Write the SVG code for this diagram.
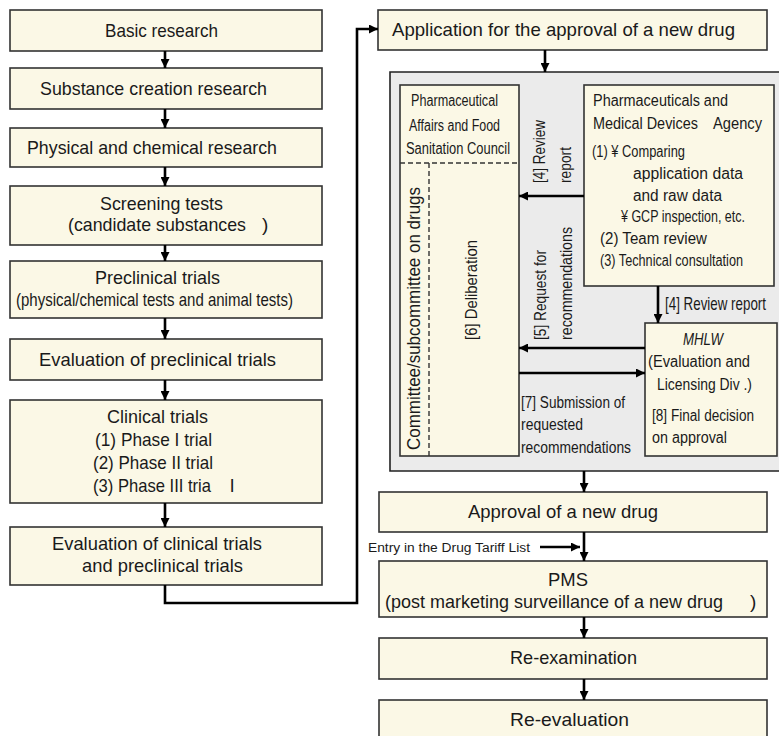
<svg xmlns="http://www.w3.org/2000/svg" width="779" height="736" viewBox="0 0 779 736">
<style>
.box{fill:#fbf8e6;stroke:#333;stroke-width:1.6}
.gray{fill:#ebebeb;stroke:none}
.gline{fill:none;stroke:#222;stroke-width:1.6}
.t{font-family:"Liberation Sans",Arial,sans-serif;font-size:19px;fill:#1a1a1a}
.m{font-size:16px}
.s{font-size:12px}
.c{fill:none;stroke:#000;stroke-width:2.6}
.d{fill:none;stroke:#333;stroke-width:1.4;stroke-dasharray:5 3}
</style>
<defs>
<marker id="ah" viewBox="0 0 10 10" markerWidth="9" markerHeight="9" markerUnits="userSpaceOnUse" refX="10" refY="5" orient="auto"><path d="M0,0L10,5L0,10z" fill="#000"/></marker>
</defs>
<rect width="779" height="736" fill="#fff"/>

<g id="n-basic"><rect class="box" x="10" y="10" width="312" height="41"/><text class="t" x="161.5" y="37" text-anchor="middle" textLength="113" lengthAdjust="spacingAndGlyphs">Basic research</text></g>
<g id="n-substance"><rect class="box" x="10" y="68" width="312" height="41"/><text class="t" x="153.5" y="95" text-anchor="middle" textLength="227" lengthAdjust="spacingAndGlyphs">Substance creation research</text></g>
<g id="n-physical"><rect class="box" x="10" y="128" width="312" height="39"/><text class="t" x="152" y="154" text-anchor="middle" textLength="250" lengthAdjust="spacingAndGlyphs">Physical and chemical research</text></g>
<g id="n-screening"><rect class="box" x="10" y="186" width="312" height="59"/><text class="t" x="161.5" y="210" text-anchor="middle" textLength="123" lengthAdjust="spacingAndGlyphs">Screening tests</text><text class="t" x="68" y="231"><tspan textLength="178" lengthAdjust="spacingAndGlyphs">(candidate substances</tspan><tspan x="262">)</tspan></text></g>
<g id="n-preclinical"><rect class="box" x="10" y="261" width="312" height="57"/><text class="t" x="157.5" y="284" text-anchor="middle" textLength="125" lengthAdjust="spacingAndGlyphs">Preclinical trials</text><text class="t" x="154.5" y="306" text-anchor="middle" textLength="277" lengthAdjust="spacingAndGlyphs">(physical/chemical tests and animal tests)</text></g>
<g id="n-evalpre"><rect class="box" x="10" y="339" width="312" height="41"/><text class="t" x="157.5" y="366" text-anchor="middle" textLength="237" lengthAdjust="spacingAndGlyphs">Evaluation of preclinical trials</text></g>
<g id="n-clinical"><rect class="box" x="10" y="400" width="312" height="103"/><text class="t" x="157.5" y="423" text-anchor="middle" textLength="101" lengthAdjust="spacingAndGlyphs">Clinical trials</text><text class="t" x="153.5" y="446" text-anchor="middle" textLength="117" lengthAdjust="spacingAndGlyphs">(1) Phase I trial</text><text class="t" x="153" y="469" text-anchor="middle" textLength="120" lengthAdjust="spacingAndGlyphs">(2) Phase II trial</text><text class="t" x="93" y="492"><tspan textLength="118" lengthAdjust="spacingAndGlyphs">(3) Phase III tria</tspan><tspan x="230">l</tspan></text></g>
<g id="n-evalclin"><rect class="box" x="10" y="527" width="312" height="58"/><text class="t" x="157" y="550" text-anchor="middle" textLength="210" lengthAdjust="spacingAndGlyphs">Evaluation of clinical trials</text><text class="t" x="162.5" y="572" text-anchor="middle" textLength="161" lengthAdjust="spacingAndGlyphs">and preclinical trials</text></g>

<g id="n-application"><rect class="box" x="378" y="10" width="389" height="40"/><text class="t" x="563.5" y="36" text-anchor="middle" textLength="343" lengthAdjust="spacingAndGlyphs">Application for the approval of a new drug</text></g>

<g id="n-review"><rect class="gray" x="390" y="72" width="389" height="399"/><path class="gline" d="M779,72H390V471H779"/></g>

<g id="n-pafsc"><rect class="box" x="400" y="85" width="119" height="371"/>
<path class="d" d="M400,163H519M429,163V456"/>
<text class="t m" x="454.5" y="106" text-anchor="middle" textLength="87" lengthAdjust="spacingAndGlyphs">Pharmaceutical</text>
<text class="t m" x="454.5" y="131" text-anchor="middle" textLength="91" lengthAdjust="spacingAndGlyphs">Affairs and Food</text>
<text class="t m" x="458" y="154" text-anchor="middle" textLength="104" lengthAdjust="spacingAndGlyphs">Sanitation Council</text>
<text class="t" transform="translate(420,450) rotate(-90)" font-size="18" textLength="263" lengthAdjust="spacingAndGlyphs">Committee/subcommittee on drugs</text>
<text class="t m" transform="translate(477,340) rotate(-90)" textLength="100" lengthAdjust="spacingAndGlyphs">[6] Deliberation</text>
</g>

<g id="n-pmda"><rect class="box" x="584" y="85" width="190" height="201"/>
<text class="t m" x="593" y="106" textLength="135" lengthAdjust="spacingAndGlyphs">Pharmaceuticals and</text>
<text class="t m" x="593" y="129"><tspan textLength="105" lengthAdjust="spacingAndGlyphs">Medical Devices</tspan><tspan x="713" textLength="49" lengthAdjust="spacingAndGlyphs">Agency</tspan></text>
<text class="t m" x="592" y="157" textLength="93" lengthAdjust="spacingAndGlyphs">(1) ¥ Comparing</text>
<text class="t m" x="633" y="179" textLength="110" lengthAdjust="spacingAndGlyphs">application data</text>
<text class="t m" x="633" y="201" textLength="89" lengthAdjust="spacingAndGlyphs">and raw data</text>
<text class="t m" x="621" y="222" textLength="124" lengthAdjust="spacingAndGlyphs">¥ GCP inspection, etc.</text>
<text class="t m" x="600" y="244" textLength="107" lengthAdjust="spacingAndGlyphs">(2) Team review</text>
<text class="t m" x="600" y="266" textLength="143" lengthAdjust="spacingAndGlyphs">(3) Technical consultation</text>
</g>

<g id="n-mhlw"><rect class="box" x="645" y="323" width="132" height="133"/>
<text class="t m" x="703" y="345" text-anchor="middle" font-style="italic" textLength="40" lengthAdjust="spacingAndGlyphs">MHLW</text>
<text class="t m" x="699" y="367" text-anchor="middle" textLength="102" lengthAdjust="spacingAndGlyphs">(Evaluation and</text>
<text class="t m" x="704.5" y="390" text-anchor="middle" textLength="95" lengthAdjust="spacingAndGlyphs">Licensing Div .)</text>
<text class="t m" x="652" y="421" textLength="102" lengthAdjust="spacingAndGlyphs">[8] Final decision</text>
<text class="t m" x="652" y="443" textLength="75" lengthAdjust="spacingAndGlyphs">on approval</text>
</g>

<g id="n-approval"><rect class="box" x="379" y="492" width="388" height="40"/><text class="t" x="563" y="518" text-anchor="middle" textLength="190" lengthAdjust="spacingAndGlyphs">Approval of a new drug</text></g>
<g id="n-pms"><rect class="box" x="379" y="561" width="388" height="56"/><text class="t" x="568" y="586" text-anchor="middle" textLength="40" lengthAdjust="spacingAndGlyphs">PMS</text><text class="t" x="385" y="608"><tspan textLength="338" lengthAdjust="spacingAndGlyphs">(post marketing surveillance of a new drug</tspan><tspan x="750">)</tspan></text></g>
<g id="n-reexam"><rect class="box" x="379" y="638" width="388" height="41"/><text class="t" x="573.5" y="664" text-anchor="middle" textLength="127" lengthAdjust="spacingAndGlyphs">Re-examination</text></g>
<g id="n-reeval"><rect class="box" x="379" y="700" width="388" height="45"/><text class="t" x="569.5" y="726" text-anchor="middle" textLength="119" lengthAdjust="spacingAndGlyphs">Re-evaluation</text></g>

<g id="connectors">
<path class="c" marker-end="url(#ah)" d="M165,51V68"/>
<path class="c" marker-end="url(#ah)" d="M165,109V128"/>
<path class="c" marker-end="url(#ah)" d="M165,167V186"/>
<path class="c" marker-end="url(#ah)" d="M165,245V261"/>
<path class="c" marker-end="url(#ah)" d="M165,318V339"/>
<path class="c" marker-end="url(#ah)" d="M165,380V400"/>
<path class="c" marker-end="url(#ah)" d="M165,503V527"/>
<path class="c" stroke-width="3" marker-end="url(#ah)" d="M165,585V603H357V29H378"/>
<path class="c" marker-end="url(#ah)" d="M545,50V72"/>
<path class="c" marker-end="url(#ah)" d="M584,196H519"/>
<path class="c" marker-end="url(#ah)" d="M658,286V323"/>
<path class="c" marker-end="url(#ah)" d="M645,348H519"/>
<path class="c" marker-end="url(#ah)" d="M519,373H645"/>
<path class="c" marker-end="url(#ah)" d="M584,471V492"/>
<path class="c" marker-end="url(#ah)" d="M584,532V561"/>
<path class="c" stroke-width="2" marker-end="url(#ah)" d="M540,547H580"/>
<path class="c" marker-end="url(#ah)" d="M584,617V638"/>
<path class="c" marker-end="url(#ah)" d="M584,679V700"/>
<text class="t m" transform="translate(545,183) rotate(-90)" textLength="63" lengthAdjust="spacingAndGlyphs">[4] Review</text>
<text class="t m" transform="translate(571,183) rotate(-90)" textLength="36" lengthAdjust="spacingAndGlyphs">report</text>
<text class="t m" transform="translate(546,340) rotate(-90)" textLength="90" lengthAdjust="spacingAndGlyphs">[5] Request for</text>
<text class="t m" transform="translate(572,340) rotate(-90)" textLength="113" lengthAdjust="spacingAndGlyphs">recommendations</text>
<text class="t" font-size="14.5" x="665" y="310" textLength="101" lengthAdjust="spacingAndGlyphs">[4] Review report</text>
<text class="t m" x="521" y="408" textLength="104" lengthAdjust="spacingAndGlyphs">[7] Submission of</text>
<text class="t m" x="521" y="430" textLength="62" lengthAdjust="spacingAndGlyphs">requested</text>
<text class="t m" x="521" y="453" textLength="110" lengthAdjust="spacingAndGlyphs">recommendations</text>
<text class="t s" x="368" y="552" textLength="162" lengthAdjust="spacingAndGlyphs">Entry in the Drug  Tariff List</text>
</g>
</svg>
